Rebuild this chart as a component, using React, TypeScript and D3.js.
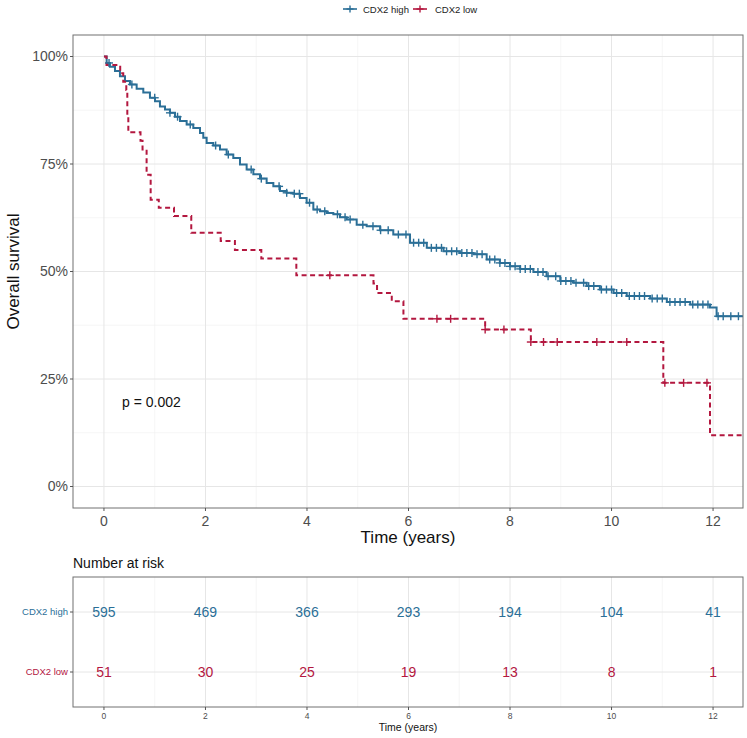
import React from 'react';
import * as d3 from 'd3';

// survival estimates (time in years, survival as fraction)
const highTimes = [0, 0.053, 0.118, 0.217, 0.315, 0.414, 0.512, 0.644, 0.775, 0.906, 1.005, 1.103, 1.202, 1.3, 1.399, 1.498, 1.629, 1.76, 1.892, 1.957, 2.023, 2.154, 2.286, 2.417, 2.548, 2.68, 2.811, 2.943, 3.074, 3.205, 3.337, 3.468, 3.599, 3.731, 3.862, 3.993, 4.125, 4.256, 4.387, 4.519, 4.65, 4.782, 4.979, 5.176, 5.44, 5.7, 6.03, 6.36, 6.69, 7.01, 7.28, 7.54, 7.8, 8.0, 8.2, 8.46, 8.72, 8.99, 9.25, 9.51, 9.77, 10.04, 10.3, 10.76, 11.09, 11.55, 11.94, 12.07];
const highSurv = [1.0, 0.985, 0.976, 0.966, 0.954, 0.943, 0.935, 0.925, 0.916, 0.904, 0.896, 0.884, 0.877, 0.869, 0.86, 0.85, 0.842, 0.834, 0.822, 0.811, 0.799, 0.793, 0.784, 0.772, 0.764, 0.749, 0.737, 0.726, 0.716, 0.706, 0.698, 0.687, 0.683, 0.681, 0.671, 0.66, 0.644, 0.64, 0.636, 0.633, 0.626, 0.621, 0.609, 0.605, 0.596, 0.586, 0.567, 0.555, 0.547, 0.543, 0.54, 0.528, 0.52, 0.512, 0.506, 0.499, 0.489, 0.478, 0.474, 0.466, 0.458, 0.45, 0.443, 0.437, 0.429, 0.423, 0.416, 0.396];
const highCensor = [0.1, 0.55, 1.0, 1.3, 1.45, 1.7, 2.2, 2.45, 2.9, 3.1, 3.45, 3.6, 3.75, 3.85, 4.05, 4.2, 4.35, 4.6, 4.75, 4.85, 5.1, 5.3, 5.45, 5.6, 5.8, 5.95, 6.1, 6.2, 6.3, 6.45, 6.55, 6.65, 6.75, 6.85, 6.95, 7.05, 7.15, 7.25, 7.35, 7.45, 7.6, 7.7, 7.8, 7.9, 8.0, 8.1, 8.2, 8.3, 8.4, 8.55, 8.65, 8.75, 8.9, 9.0, 9.1, 9.2, 9.3, 9.45, 9.55, 9.65, 9.8, 9.9, 10.0, 10.1, 10.2, 10.35, 10.45, 10.55, 10.65, 10.8, 10.9, 11.0, 11.15, 11.25, 11.35, 11.45, 11.6, 11.7, 11.8, 11.9, 12.1, 12.2, 12.35, 12.5];

const lowTimes = [0, 0.05, 0.32, 0.38, 0.44, 0.46, 0.48, 0.72, 0.76, 0.84, 0.92, 1.08, 1.38, 1.72, 2.3, 2.58, 3.1, 3.79, 5.31, 5.38, 5.67, 5.9, 7.51, 8.41, 11.02, 11.94];
const lowSurv = [1.0, 0.98, 0.961, 0.941, 0.922, 0.863, 0.824, 0.804, 0.784, 0.725, 0.667, 0.648, 0.629, 0.59, 0.571, 0.55, 0.53, 0.491, 0.472, 0.45, 0.431, 0.39, 0.365, 0.336, 0.241, 0.119];
const lowCensor = [4.45, 6.56, 6.83, 7.51, 7.88, 8.41, 8.66, 8.93, 9.71, 10.3, 11.05, 11.42, 11.88];

const groups = ['CDX2 high', 'CDX2 low'];
const riskTimes = [0, 2, 4, 6, 8, 10, 12];
const riskHigh = [595, 469, 366, 293, 194, 104, 41];
const riskLow = [51, 30, 25, 19, 13, 8, 1];
const yTicks = [0, 0.25, 0.5, 0.75, 1];

const BLUE = '#2b6f97';
const RED = '#b3173f';
const FONT = '"Liberation Sans", Arial, sans-serif';
const X_END = 12.59;

const W = 747, H = 738;
const panel = { left: 73, right: 743, top: 35, bottom: 508 };
const table = { top: 577, bottom: 707 };

function survAt(times: number[], surv: number[], t: number) {
  const i = d3.bisectRight(times, t) - 1;
  return surv[Math.max(0, i)];
}

export default function App() {
  const x = d3.scaleLinear().domain([-0.61, X_END]).range([panel.left, panel.right]);
  const y = d3.scaleLinear().domain([-0.05, 1.05]).range([panel.bottom, panel.top]);
  const yRow = d3.scalePoint<string>().domain(groups).range([table.top + 35, table.bottom - 35]);

  const line = d3.line<[number, number]>()
    .x(d => x(d[0]))
    .y(d => y(d[1]))
    .curve(d3.curveStepAfter);

  const highPts: [number, number][] = highTimes.map((t, i) => [t, highSurv[i]]);
  highPts.push([X_END, highSurv[highSurv.length - 1]]);
  const lowPts: [number, number][] = lowTimes.map((t, i) => [t, lowSurv[i]]);
  lowPts.push([X_END, lowSurv[lowSurv.length - 1]]);

  const majorX = d3.range(0, 13, 2);
  const minorX = d3.range(1, 13, 2);
  const minorY = [0.125, 0.375, 0.625, 0.875];

  const plus = (cx: number, cy: number, color: string, key: string, s = 4) => (
    <g key={key} stroke={color} strokeWidth={1.4}>
      <line x1={cx - s} x2={cx + s} y1={cy} y2={cy} />
      <line x1={cx} x2={cx} y1={cy - s} y2={cy + s} />
    </g>
  );

  return (
    <svg width={W} height={H} style={{ position: 'absolute', left: 0, top: 0, background: '#fff' }} fontFamily={FONT}>
      {/* legend */}
      <g>
        <line x1={343} x2={357} y1={9} y2={9} stroke={BLUE} strokeWidth={1.6} />
        {plus(350, 9, BLUE, 'lb', 3.5)}
        <text x={363} y={12.5} fontSize={9.5} fill="#222">{groups[0]}</text>
        <line x1={413} x2={427} y1={9} y2={9} stroke={RED} strokeWidth={1.6} />
        {plus(420, 9, RED, 'lr', 3.5)}
        <text x={435} y={12.5} fontSize={9.5} fill="#222">{groups[1]}</text>
      </g>

      {/* main panel grid */}
      <g>
        {minorX.map(v => <line key={'mx' + v} x1={x(v)} x2={x(v)} y1={panel.top} y2={panel.bottom} stroke="#f0f0f0" strokeWidth={0.6} />)}
        {minorY.map(v => <line key={'my' + v} x1={panel.left} x2={panel.right} y1={y(v)} y2={y(v)} stroke="#f0f0f0" strokeWidth={0.6} />)}
        {majorX.map(v => <line key={'Mx' + v} x1={x(v)} x2={x(v)} y1={panel.top} y2={panel.bottom} stroke="#e6e6e6" strokeWidth={1} />)}
        {yTicks.map(v => <line key={'My' + v} x1={panel.left} x2={panel.right} y1={y(v)} y2={y(v)} stroke="#e6e6e6" strokeWidth={1} />)}
      </g>

      {/* curves */}
      <path d={line(highPts) || ''} fill="none" stroke={BLUE} strokeWidth={2} />
      <path d={line(lowPts) || ''} fill="none" stroke={RED} strokeWidth={2} strokeDasharray="5,3.5" />
      {highCensor.map((t, i) => plus(x(t), y(survAt(highTimes, highSurv, t)), BLUE, 'hc' + i))}
      {lowCensor.map((t, i) => plus(x(t), y(survAt(lowTimes, lowSurv, t)), RED, 'lc' + i))}

      <text x={122} y={407} fontSize={14} fill="#111">p = 0.002</text>

      <rect x={panel.left} y={panel.top} width={panel.right - panel.left} height={panel.bottom - panel.top} fill="none" stroke="#707070" strokeWidth={1} />

      {/* y axis */}
      {yTicks.map(v => (
        <g key={'yt' + v}>
          <line x1={panel.left - 3} x2={panel.left} y1={y(v)} y2={y(v)} stroke="#555" />
          <text x={panel.left - 5} y={y(v)} dy="0.35em" textAnchor="end" fontSize={14} fill="#4d4d4d">{d3.format('.0%')(v)}</text>
        </g>
      ))}
      <text transform={`translate(19,${(panel.top + panel.bottom) / 2}) rotate(-90)`} textAnchor="middle" fontSize={17} fill="#111">Overall survival</text>

      {/* x axis */}
      {majorX.map(v => (
        <g key={'xt' + v}>
          <line x1={x(v)} x2={x(v)} y1={panel.bottom} y2={panel.bottom + 3} stroke="#555" />
          <text x={x(v)} y={panel.bottom + 18} textAnchor="middle" fontSize={14} fill="#4d4d4d">{v}</text>
        </g>
      ))}
      <text x={(panel.left + panel.right) / 2} y={543} textAnchor="middle" fontSize={17} fill="#111">Time (years)</text>

      {/* risk table */}
      <text x={panel.left} y={568} fontSize={14} fill="#111">Number at risk</text>
      <g>
        {minorX.map(v => <line key={'tmx' + v} x1={x(v)} x2={x(v)} y1={table.top} y2={table.bottom} stroke="#f0f0f0" strokeWidth={0.6} />)}
        {majorX.map(v => <line key={'tMx' + v} x1={x(v)} x2={x(v)} y1={table.top} y2={table.bottom} stroke="#e6e6e6" strokeWidth={1} />)}
        {groups.map(g => <line key={'tg' + g} x1={panel.left} x2={panel.right} y1={yRow(g)} y2={yRow(g)} stroke="#e6e6e6" strokeWidth={1} />)}
      </g>
      {riskTimes.map((t, i) => (
        <g key={'r' + t} fontSize={14} textAnchor="middle">
          <text x={x(t)} y={yRow(groups[0])} dy="0.35em" fill={BLUE}>{riskHigh[i]}</text>
          <text x={x(t)} y={yRow(groups[1])} dy="0.35em" fill={RED}>{riskLow[i]}</text>
        </g>
      ))}
      <rect x={panel.left} y={table.top} width={panel.right - panel.left} height={table.bottom - table.top} fill="none" stroke="#707070" strokeWidth={1} />
      {groups.map((g, i) => (
        <g key={'rl' + g}>
          <line x1={panel.left - 3} x2={panel.left} y1={yRow(g)} y2={yRow(g)} stroke="#555" />
          <text x={panel.left - 5} y={yRow(g)} dy="0.35em" textAnchor="end" fontSize={9.5} fill={i === 0 ? BLUE : RED}>{g}</text>
        </g>
      ))}
      {majorX.map(v => (
        <g key={'txt' + v}>
          <line x1={x(v)} x2={x(v)} y1={table.bottom} y2={table.bottom + 3} stroke="#555" />
          <text x={x(v)} y={table.bottom + 12} textAnchor="middle" fontSize={8.5} fill="#4d4d4d">{v}</text>
        </g>
      ))}
      <text x={(panel.left + panel.right) / 2} y={731} textAnchor="middle" fontSize={10.5} fill="#111">Time (years)</text>
    </svg>
  );
}
